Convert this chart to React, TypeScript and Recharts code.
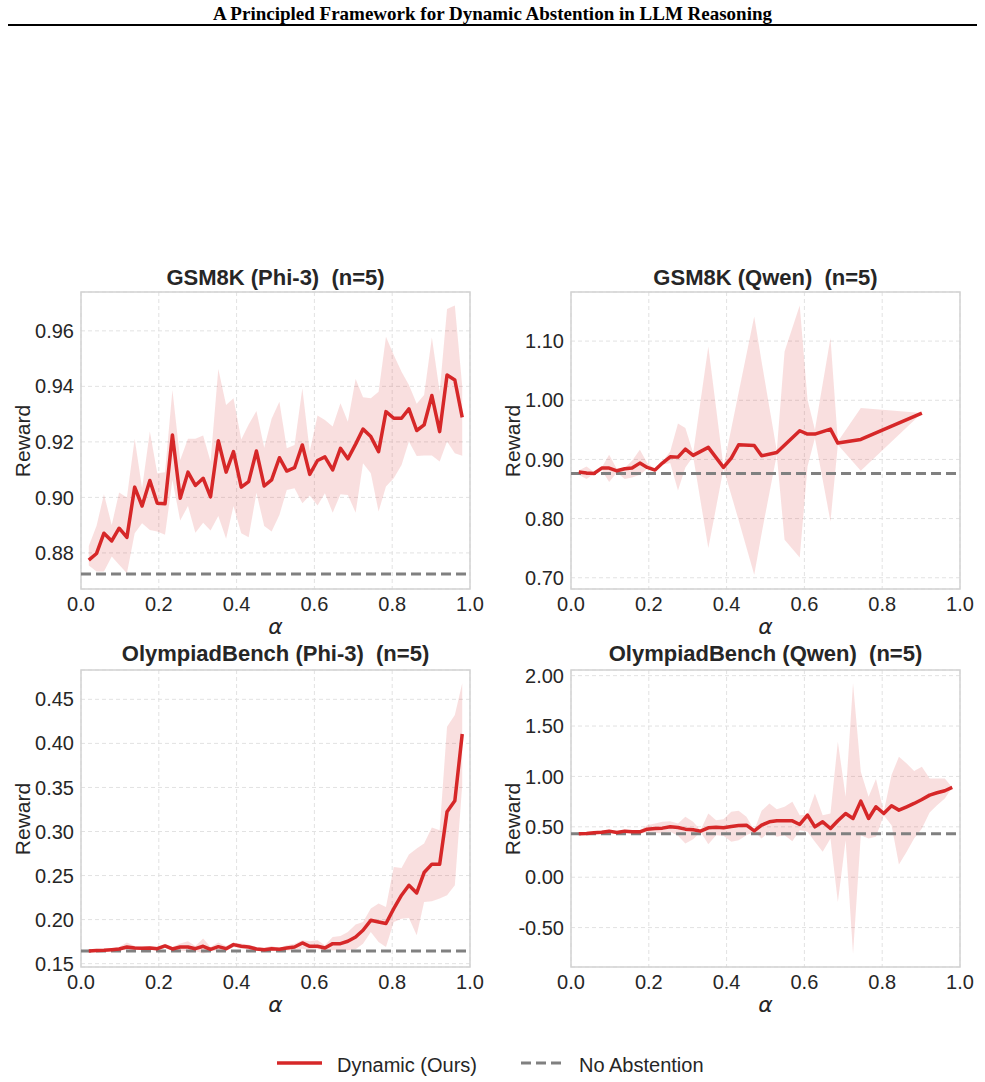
import {
  Area,
  CartesianGrid,
  ComposedChart,
  Line,
  ReferenceArea,
  ReferenceLine,
  XAxis,
  YAxis,
} from 'recharts'

// alpha grid shared by the full runs (50 points)
const ALPHA = [
  0.02, 0.04, 0.059, 0.079, 0.098, 0.118, 0.138, 0.157, 0.177, 0.196,
  0.216, 0.235, 0.255, 0.275, 0.294, 0.314, 0.333, 0.353, 0.373, 0.392,
  0.412, 0.431, 0.451, 0.471, 0.49, 0.51, 0.529, 0.549, 0.569, 0.588,
  0.608, 0.627, 0.647, 0.667, 0.686, 0.706, 0.725, 0.745, 0.765, 0.784,
  0.804, 0.824, 0.843, 0.863, 0.882, 0.902, 0.922, 0.941, 0.961, 0.98,
]

// GSM8K (Phi-3)
const GSM_PHI_MEAN = [
  0.8774, 0.8798, 0.8871, 0.8843, 0.8889, 0.8856, 0.9037, 0.8969, 0.9061, 0.8979,
  0.8977, 0.9225, 0.8997, 0.9091, 0.9043, 0.9069, 0.9002, 0.9204, 0.9091, 0.9165,
  0.9037, 0.9057, 0.9167, 0.9041, 0.9063, 0.9143, 0.9095, 0.9107, 0.9189, 0.9083,
  0.9133, 0.9146, 0.9099, 0.9177, 0.9139, 0.9192, 0.9246, 0.9219, 0.9165, 0.9309,
  0.9285, 0.9285, 0.9319, 0.9241, 0.9261, 0.9367, 0.9237, 0.9441, 0.9423, 0.9288,
]
const GSM_PHI_UPPER = [
  0.8825, 0.8898, 0.9011, 0.8901, 0.9018, 0.9, 0.9211, 0.9033, 0.9237, 0.9087,
  0.9091, 0.9387, 0.9135, 0.9211, 0.9211, 0.9223, 0.9129, 0.9463, 0.9333, 0.9357,
  0.9209, 0.9263, 0.9311, 0.9179, 0.9283, 0.9345, 0.9177, 0.9189, 0.9393, 0.9165,
  0.9295, 0.9279, 0.9255, 0.9339, 0.9273, 0.9427, 0.9361, 0.9357, 0.9381, 0.9579,
  0.9513, 0.9453, 0.9405, 0.9337, 0.9369, 0.9576, 0.9381, 0.9679, 0.9691, 0.94,
]
const GSM_PHI_LOWER = [
  0.8755, 0.8733, 0.8733, 0.8787, 0.8757, 0.8727, 0.8871, 0.8907, 0.8883, 0.8877,
  0.8865, 0.9063, 0.8917, 0.8969, 0.8873, 0.8909, 0.8881, 0.8933, 0.8851, 0.8969,
  0.8871, 0.8856, 0.9017, 0.8897, 0.8877, 0.8937, 0.9027, 0.9033, 0.8979, 0.9007,
  0.8971, 0.9015, 0.8945, 0.9011, 0.9009, 0.8945, 0.9123, 0.9087, 0.8949, 0.9039,
  0.9069, 0.9117, 0.9201, 0.9149, 0.9151, 0.9151, 0.9129, 0.9201, 0.9159, 0.915,
]
const GSM_PHI_BASE = 0.8724

// GSM8K (Qwen) – sparser alpha grid
const GSM_QWEN_ALPHA = [
  0.02, 0.04, 0.059, 0.079, 0.098, 0.118, 0.138, 0.157, 0.177, 0.196,
  0.216, 0.235, 0.255, 0.275, 0.294, 0.314, 0.353, 0.392, 0.412, 0.431,
  0.471, 0.49, 0.529, 0.549, 0.588, 0.608, 0.627, 0.667, 0.686, 0.745, 0.902,
]
const GSM_QWEN_MEAN = [
  0.8786, 0.8769, 0.8763, 0.8854, 0.8854, 0.8808, 0.8842, 0.8854, 0.8938, 0.8865,
  0.882, 0.8938, 0.9045, 0.9039, 0.9175, 0.9068, 0.9203, 0.8865, 0.9023, 0.9248,
  0.9237, 0.9062, 0.9118, null, 0.9485, 0.9428, 0.9428, 0.9513, 0.9276, 0.9338, 0.9783,
]
const GSM_QWEN_UPPER = [
  0.8814, 0.8882, 0.8786, 0.8865, 0.9079, 0.8837, 0.8854, 0.8977, 0.9163, 0.8938,
  0.8837, 0.8966, 0.9135, 0.9608, 0.953, 0.9107, 1.091, 0.8882, 0.952, 1.013,
  1.1417, 1.065, 0.9146, 1.0825, 1.1603, 1.0008, 0.9501, 1.1051, 0.9304, 0.9868, 0.9783,
]
const GSM_QWEN_LOWER = [
  0.8741, 0.8668, 0.8758, 0.882, 0.8617, 0.878, 0.8668, 0.8696, 0.8741, 0.8842,
  0.8797, 0.891, 0.8938, 0.8476, 0.8865, 0.9051, 0.7501, 0.8842, 0.84, 0.797,
  0.7051, 0.775, 0.9079, 0.7642, 0.7344, 0.8882, 0.9361, 0.7952, 0.9248, 0.8808, 0.9783,
]
const GSM_QWEN_BASE = 0.8763

// OlympiadBench (Phi-3)
const OLY_PHI_MEAN = [
  0.1644, 0.1648, 0.1652, 0.1659, 0.1667, 0.1689, 0.1678, 0.1674, 0.1678, 0.167,
  0.1701, 0.1667, 0.1689, 0.1689, 0.167, 0.1697, 0.1663, 0.1693, 0.167, 0.1716,
  0.1697, 0.1689, 0.1667, 0.1659, 0.167, 0.1663, 0.1678, 0.1689, 0.1735, 0.1697,
  0.1697, 0.1678, 0.1727, 0.1727, 0.1754, 0.1803, 0.1879, 0.1992, 0.1973, 0.1955,
  0.2125, 0.2277, 0.239, 0.2303, 0.2534, 0.2629, 0.2629, 0.3223, 0.3348, 0.4106,
]
const OLY_PHI_UPPER = [
  0.1652, 0.1658, 0.1664, 0.1676, 0.169, 0.174, 0.17, 0.1695, 0.17, 0.169,
  0.1725, 0.169, 0.173, 0.1755, 0.17, 0.1785, 0.169, 0.174, 0.17, 0.174,
  0.173, 0.1715, 0.169, 0.168, 0.17, 0.1678, 0.1708, 0.1727, 0.1765, 0.1754,
  0.1765, 0.1708, 0.1803, 0.1814, 0.186, 0.1943, 0.1973, 0.2125, 0.2182, 0.2144,
  0.2598, 0.2587, 0.2739, 0.2807, 0.2864, 0.3045, 0.3015, 0.4189, 0.4322, 0.4682,
]
const OLY_PHI_LOWER = [
  0.1636, 0.164, 0.1642, 0.1644, 0.1648, 0.1655, 0.166, 0.1655, 0.1658, 0.165,
  0.1678, 0.1645, 0.165, 0.164, 0.1645, 0.1615, 0.164, 0.165, 0.1645, 0.169,
  0.167, 0.166, 0.1645, 0.164, 0.1645, 0.164, 0.1648, 0.1652, 0.167, 0.1652,
  0.1663, 0.1652, 0.1652, 0.1652, 0.1652, 0.1663, 0.1727, 0.186, 0.1746, 0.1689,
  0.1973, 0.2011, 0.2019, 0.1822, 0.2201, 0.2208, 0.2239, 0.2277, 0.239, 0.3527,
]
const OLY_PHI_BASE = 0.1644

// OlympiadBench (Qwen)
const OLY_QWEN_MEAN = [
  0.4305, 0.4338, 0.4404, 0.447, 0.457, 0.4437, 0.457, 0.4503, 0.4503, 0.4768,
  0.4834, 0.4868, 0.5, 0.4934, 0.4768, 0.4702, 0.457, 0.4901, 0.4967, 0.4901,
  0.5033, 0.5132, 0.5166, 0.4603, 0.5166, 0.5497, 0.5596, 0.5596, 0.5596, 0.5232,
  0.6159, 0.5, 0.5497, 0.4834, 0.5596, 0.6325, 0.5828, 0.755, 0.5828, 0.6987,
  0.6325, 0.7086, 0.6656, 0.6987, 0.7318, 0.7715, 0.8146, 0.8377, 0.8576, 0.8907,
]
const OLY_QWEN_UPPER = [
  0.44, 0.448, 0.455, 0.462, 0.47, 0.458, 0.47, 0.465, 0.467, 0.5166,
  0.533, 0.5497, 0.5563, 0.5331, 0.5993, 0.5497, 0.4669, 0.6325, 0.5662, 0.5762,
  0.649, 0.6589, 0.5993, 0.4669, 0.659, 0.7318, 0.6755, 0.6987, 0.7483, 0.6159,
  0.6225, 0.8311, 0.6159, 0.6325, 1.3444, 0.798, 1.9238, 1.0464, 0.798, 0.9735,
  0.649, 1.0132, 1.1954, 1.1291, 1.053, 1.096, 0.9801, 0.9801, 0.9801, 0.8907,
]
const OLY_QWEN_LOWER = [
  0.422, 0.425, 0.428, 0.432, 0.44, 0.43, 0.442, 0.437, 0.434, 0.4437,
  0.4404, 0.4338, 0.4503, 0.4106, 0.3344, 0.3775, 0.4503, 0.3278, 0.4172, 0.4106,
  0.351, 0.3675, 0.4172, 0.4503, 0.3841, 0.457, 0.4007, 0.4172, 0.3576, 0.4669,
  0.4503, 0.351, 0.2517, 0.3841, -0.245, 0.3675, -0.7583, 0.4172, 0.3841, 0.4007,
  0.6159, 0.5166, 0.1258, 0.2517, 0.3841, 0.4834, 0.6424, 0.7152, 0.7815, 0.8907,
]
const OLY_QWEN_BASE = 0.4305

const X_TICKS = [0, 0.2, 0.4, 0.6, 0.8, 1.0]

const RED = '#d62728'
const GRAY = '#808080'
const GRID = '#e2e2e2'
const FRAME = '#d2d2d2'
const INK = '#262626'
const SANS = '"Liberation Sans", Arial, Helvetica, sans-serif'

// chart box geometry: plot area = 81..470 horizontally, 10..307 vertically
const CHART_W = 486
const CHART_H = 347
const MARGIN = { top: 10, right: 16, bottom: 0, left: 21 }

type Row = { alpha: number; mean: number | null; band: [number, number] }

const buildRows = (
  alpha: number[],
  mean: (number | null)[],
  lower: number[],
  upper: number[],
): Row[] =>
  alpha.map((a, i) => ({ alpha: a, mean: mean[i], band: [lower[i], upper[i]] }))

interface PanelProps {
  title: string
  rows: Row[]
  yDomain: [number, number]
  yTicks: number[]
  baseline: number
  left: number
  top: number
  titleTop: number
}

function Panel({ title, rows, yDomain, yTicks, baseline, left, top, titleTop }: PanelProps) {
  const plotCx = left + 81 + (470 - 81) / 2
  const plotCy = top + 10 + 297 / 2
  return (
    <>
      <div
        style={{
          position: 'absolute',
          left: plotCx - 250,
          width: 500,
          top: titleTop,
          textAlign: 'center',
          fontFamily: SANS,
          fontWeight: 700,
          fontSize: 22,
          lineHeight: 1,
          color: INK,
          whiteSpace: 'pre',
        }}
      >
        {title}
      </div>
      <div
        style={{
          position: 'absolute',
          left: left + 22,
          top: plotCy,
          transform: 'translate(-50%, -50%) rotate(-90deg)',
          fontFamily: SANS,
          fontSize: 21,
          lineHeight: 1,
          color: INK,
          whiteSpace: 'nowrap',
        }}
      >
        Reward
      </div>
      <div
        style={{
          position: 'absolute',
          left: plotCx - 20,
          width: 40,
          top: top + 334,
          textAlign: 'center',
          fontFamily: '"DejaVu Sans", sans-serif',
          fontStyle: 'italic',
          fontSize: 22,
          lineHeight: 1,
          color: INK,
        }}
      >
        α
      </div>
      <div style={{ position: 'absolute', left, top }}>
        <ComposedChart width={CHART_W} height={CHART_H} data={rows} margin={MARGIN}>
          <CartesianGrid stroke={GRID} strokeDasharray="4 3" strokeWidth={1} />
          <XAxis
            dataKey="alpha"
            type="number"
            domain={[0, 1]}
            ticks={X_TICKS}
            interval={0}
            allowDataOverflow
            tickFormatter={(v: number) => v.toFixed(1)}
            tick={{ fill: INK, fontSize: 20 }}
            tickLine={false}
            axisLine={false}
            tickSize={0}
            tickMargin={8}
            height={40}
          />
          <YAxis
            type="number"
            domain={yDomain}
            ticks={yTicks}
            interval={0}
            allowDataOverflow
            tickFormatter={(v: number) => v.toFixed(2)}
            tick={{ fill: INK, fontSize: 20 }}
            tickLine={false}
            axisLine={false}
            tickSize={0}
            tickMargin={7}
            width={60}
          />
          <Area
            type="linear"
            dataKey="band"
            stroke="none"
            fill={RED}
            fillOpacity={0.15}
            connectNulls
            dot={false}
            activeDot={false}
            isAnimationActive={false}
          />
          <ReferenceLine
            y={baseline}
            stroke={GRAY}
            strokeWidth={3}
            strokeDasharray="10 5"
          />
          <Line
            type="linear"
            dataKey="mean"
            stroke={RED}
            strokeWidth={3.5}
            strokeLinejoin="round"
            dot={false}
            activeDot={false}
            connectNulls
            isAnimationActive={false}
          />
          <ReferenceArea
            x1={0}
            x2={1}
            y1={yDomain[0]}
            y2={yDomain[1]}
            fill="none"
            stroke={FRAME}
            strokeWidth={1.5}
            fillOpacity={0}
          />
        </ComposedChart>
      </div>
    </>
  )
}

export default function App() {
  return (
    <div
      style={{
        position: 'absolute',
        left: 0,
        top: 0,
        width: 985,
        height: 1082,
        background: '#fff',
        fontFamily: SANS,
      }}
    >
      <div
        style={{
          position: 'absolute',
          left: 0,
          top: 4,
          width: 985,
          textAlign: 'center',
          fontFamily: '"Liberation Serif", "Times New Roman", serif',
          fontWeight: 700,
          fontSize: 19,
          lineHeight: 1,
          color: '#000',
        }}
      >
        A Principled Framework for Dynamic Abstention in LLM Reasoning
      </div>
      <div
        style={{
          position: 'absolute',
          left: 8,
          top: 24,
          width: 969,
          height: 2,
          background: '#000',
        }}
      />

      <Panel
        title="GSM8K (Phi-3)  (n=5)"
        rows={buildRows(ALPHA, GSM_PHI_MEAN, GSM_PHI_LOWER, GSM_PHI_UPPER)}
        yDomain={[0.867, 0.974]}
        yTicks={[0.88, 0.9, 0.92, 0.94, 0.96]}
        baseline={GSM_PHI_BASE}
        left={0}
        top={282}
        titleTop={267}
      />
      <Panel
        title="GSM8K (Qwen)  (n=5)"
        rows={buildRows(GSM_QWEN_ALPHA, GSM_QWEN_MEAN, GSM_QWEN_LOWER, GSM_QWEN_UPPER)}
        yDomain={[0.681, 1.183]}
        yTicks={[0.7, 0.8, 0.9, 1.0, 1.1]}
        baseline={GSM_QWEN_BASE}
        left={490}
        top={282}
        titleTop={267}
      />
      <Panel
        title="OlympiadBench (Phi-3)  (n=5)"
        rows={buildRows(ALPHA, OLY_PHI_MEAN, OLY_PHI_LOWER, OLY_PHI_UPPER)}
        yDomain={[0.1462, 0.4833]}
        yTicks={[0.15, 0.2, 0.25, 0.3, 0.35, 0.4, 0.45]}
        baseline={OLY_PHI_BASE}
        left={0}
        top={660}
        titleTop={643}
      />
      <Panel
        title="OlympiadBench (Qwen)  (n=5)"
        rows={buildRows(ALPHA, OLY_QWEN_MEAN, OLY_QWEN_LOWER, OLY_QWEN_UPPER)}
        yDomain={[-0.891, 2.056]}
        yTicks={[-0.5, 0, 0.5, 1.0, 1.5, 2.0]}
        baseline={OLY_QWEN_BASE}
        left={490}
        top={660}
        titleTop={643}
      />

      <svg
        style={{ position: 'absolute', left: 0, top: 1040 }}
        width={985}
        height={42}
      >
        <line x1={277} x2={322} y1={23} y2={23} stroke={RED} strokeWidth={3.5} />
        <text x={337} y={31.5} fontSize={20} fill={INK} fontFamily={SANS}>
          Dynamic (Ours)
        </text>
        <line
          x1={521}
          x2={562}
          y1={23}
          y2={23}
          stroke={GRAY}
          strokeWidth={3}
          strokeDasharray="10 5"
        />
        <text x={579} y={31.5} fontSize={20} fill={INK} fontFamily={SANS}>
          No Abstention
        </text>
      </svg>
    </div>
  )
}
